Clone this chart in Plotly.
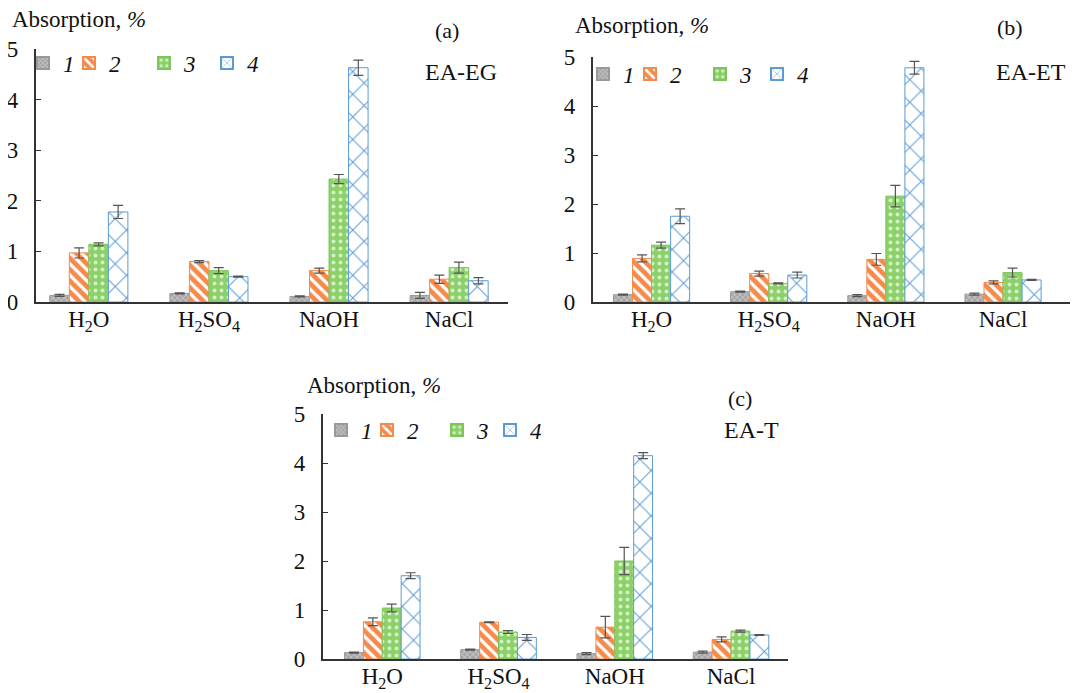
import plotly.graph_objects as go

categories = ["H<sub>2</sub>O", "H<sub>2</sub>SO<sub>4</sub>", "NaOH", "NaCl"]
series_names = ["<i>1</i>", "<i>2</i>", "<i>3</i>", "<i>4</i>"]

# Panel (a) EA-EG
a_vals = [
    [0.13, 0.17, 0.11, 0.13],
    [0.97, 0.80, 0.62, 0.45],
    [1.14, 0.62, 2.43, 0.68],
    [1.78, 0.50, 4.63, 0.42],
]
a_err = [
    [0.02, 0.01, 0.01, 0.06],
    [0.10, 0.02, 0.05, 0.08],
    [0.03, 0.06, 0.09, 0.11],
    [0.13, 0.01, 0.15, 0.06],
]
# Panel (b) EA-ET
b_vals = [
    [0.15, 0.21, 0.13, 0.16],
    [0.89, 0.58, 0.87, 0.40],
    [1.16, 0.38, 2.16, 0.60],
    [1.75, 0.55, 4.78, 0.45],
]
b_err = [
    [0.01, 0.01, 0.02, 0.02],
    [0.07, 0.05, 0.12, 0.03],
    [0.06, 0.01, 0.22, 0.09],
    [0.15, 0.06, 0.13, 0.01],
]
# Panel (c) EA-T
c_vals = [
    [0.13, 0.19, 0.11, 0.14],
    [0.76, 0.75, 0.65, 0.40],
    [1.04, 0.55, 2.00, 0.57],
    [1.70, 0.44, 4.15, 0.49],
]
c_err = [
    [0.01, 0.01, 0.02, 0.02],
    [0.08, 0.01, 0.22, 0.05],
    [0.08, 0.03, 0.28, 0.02],
    [0.06, 0.06, 0.06, 0.01],
]

y_ticks = [0, 1, 2, 3, 4, 5]
y_ticktext = ["0", "1", "2", "3", "4", "5"]

styles = [
    dict(bg="#A6A6A6", fg="#D9D9D9", shape="x", size=4, sol=0.3, line="#999999"),
    dict(bg="#F58A4B", fg="#FFFFFF", shape="\\", size=8, sol=0.4, line="#F58A4B"),
    dict(bg="#8CD06A", fg="#D4F0C4", shape=".", size=7, sol=0.25, line="#7DC45A"),
    dict(bg="#FFFFFF", fg="#5B9BD5", shape="x", size=16, sol=0.12, line="#5B9BD5"),
]

# page body has an 8px margin; figure coordinates are offset by it
OFF = 8
W, H = 1078 - OFF, 693 - OFF
def px(x):
    return (x - OFF) / W
def py(y):
    return 1 - (y - OFF) / H

panels = [
    dict(vals=a_vals, err=a_err, xd=[px(36), px(508)], yd=[py(302), py(49)],
         xr=[-0.44, 3.49], leg="legend", lx=px(23), ly=py(63), lw=[1, 30, 18, 10],
         title_x=10, title_y=19, lab="(a)", lab_x=447, lab_y=30,
         name="EA-EG", name_x=499, name_y=72),
    dict(vals=b_vals, err=b_err, xd=[px(593), 1.0], yd=[py(302), py(57)],
         xr=[-0.50, 3.64], leg="legend2", lx=px(583), ly=py(74), lw=[2, 25, 12, 10],
         title_x=573, title_y=26, lab="(b)", lab_x=1010, lab_y=27,
         name="EA-ET", name_x=1068, name_y=72),
    dict(vals=c_vals, err=c_err, xd=[px(323), px(788)], yd=[py(659), py(414)],
         xr=[-0.51, 3.49], leg="legend3", lx=px(321), ly=py(430), lw=[1, 25, 8, 10],
         title_x=305, title_y=385, lab="(c)", lab_x=740, lab_y=398,
         name="EA-T", name_x=781, name_y=430),
]

fig = go.Figure()
font_family = "Liberation Serif, Times New Roman, serif"
axis_color = "#333333"

for pi, p in enumerate(panels):
    xa = "x" if pi == 0 else f"x{pi+1}"
    ya = "y" if pi == 0 else f"y{pi+1}"
    for si in range(4):
        st = styles[si]
        fig.add_trace(go.Bar(
            x=categories, y=p["vals"][si], name=series_names[si],
            xaxis=xa, yaxis=ya, legend=p["leg"], legendwidth=p["lw"][si],
            marker=dict(
                color=st["bg"],
                line=dict(color=st["line"], width=1),
                pattern=dict(shape=st["shape"], bgcolor=st["bg"], fgcolor=st["fg"],
                             size=st["size"], solidity=st["sol"], fillmode="replace"),
            ),
            error_y=dict(type="data", array=p["err"][si], color="#555555",
                         thickness=1.2, width=5),
        ))
    xkey = "xaxis" if pi == 0 else f"xaxis{pi+1}"
    ykey = "yaxis" if pi == 0 else f"yaxis{pi+1}"
    fig.update_layout(**{
        xkey: dict(domain=p["xd"], anchor=ya, range=p["xr"], showline=True,
                   linecolor=axis_color, linewidth=1.5, ticks="", showgrid=False,
                   zeroline=False, ticklabelstandoff=-4,
                   tickfont=dict(family=font_family, size=23, color="#111")),
        ykey: dict(domain=p["yd"], anchor=xa, range=[0, 5], showline=True,
                   linecolor=axis_color, linewidth=1.5, ticks="inside", ticklen=5,
                   tickcolor=axis_color, tickvals=y_ticks,
                   ticktext=[t + "\u2002" for t in y_ticktext], showgrid=False,
                   zeroline=False,
                   tickfont=dict(family=font_family, size=23, color="#111")),
    })
    fig.update_layout(**{
        p["leg"]: dict(orientation="h", x=p["lx"], y=p["ly"], xanchor="left",
                       yanchor="middle",
                       font=dict(family=font_family, size=23, color="#111"),
                       bgcolor="rgba(0,0,0,0)", itemsizing="constant",
                       tracegroupgap=0)
    })
    fig.add_annotation(x=px(p["title_x"]), y=py(p["title_y"]), xref="paper", yref="paper",
                       xanchor="left", yanchor="middle", showarrow=False,
                       text="Absorption, <i>%</i>",
                       font=dict(family=font_family, size=23, color="#111"))
    fig.add_annotation(x=px(p["lab_x"]), y=py(p["lab_y"]), xref="paper", yref="paper",
                       xanchor="center", yanchor="middle", showarrow=False,
                       text=p["lab"], font=dict(family=font_family, size=22, color="#111"))
    fig.add_annotation(x=px(p["name_x"]), y=py(p["name_y"]), xref="paper", yref="paper",
                       xanchor="right", yanchor="middle", showarrow=False,
                       text=p["name"], font=dict(family=font_family, size=24, color="#111"))

fig.update_layout(
    width=W, height=H, margin=dict(l=0, r=0, t=0, b=0, autoexpand=False),
    paper_bgcolor="white", plot_bgcolor="white",
    barmode="group", bargap=0.35, bargroupgap=0.0,
    showlegend=True,
)

fig.write_html("out.html")
